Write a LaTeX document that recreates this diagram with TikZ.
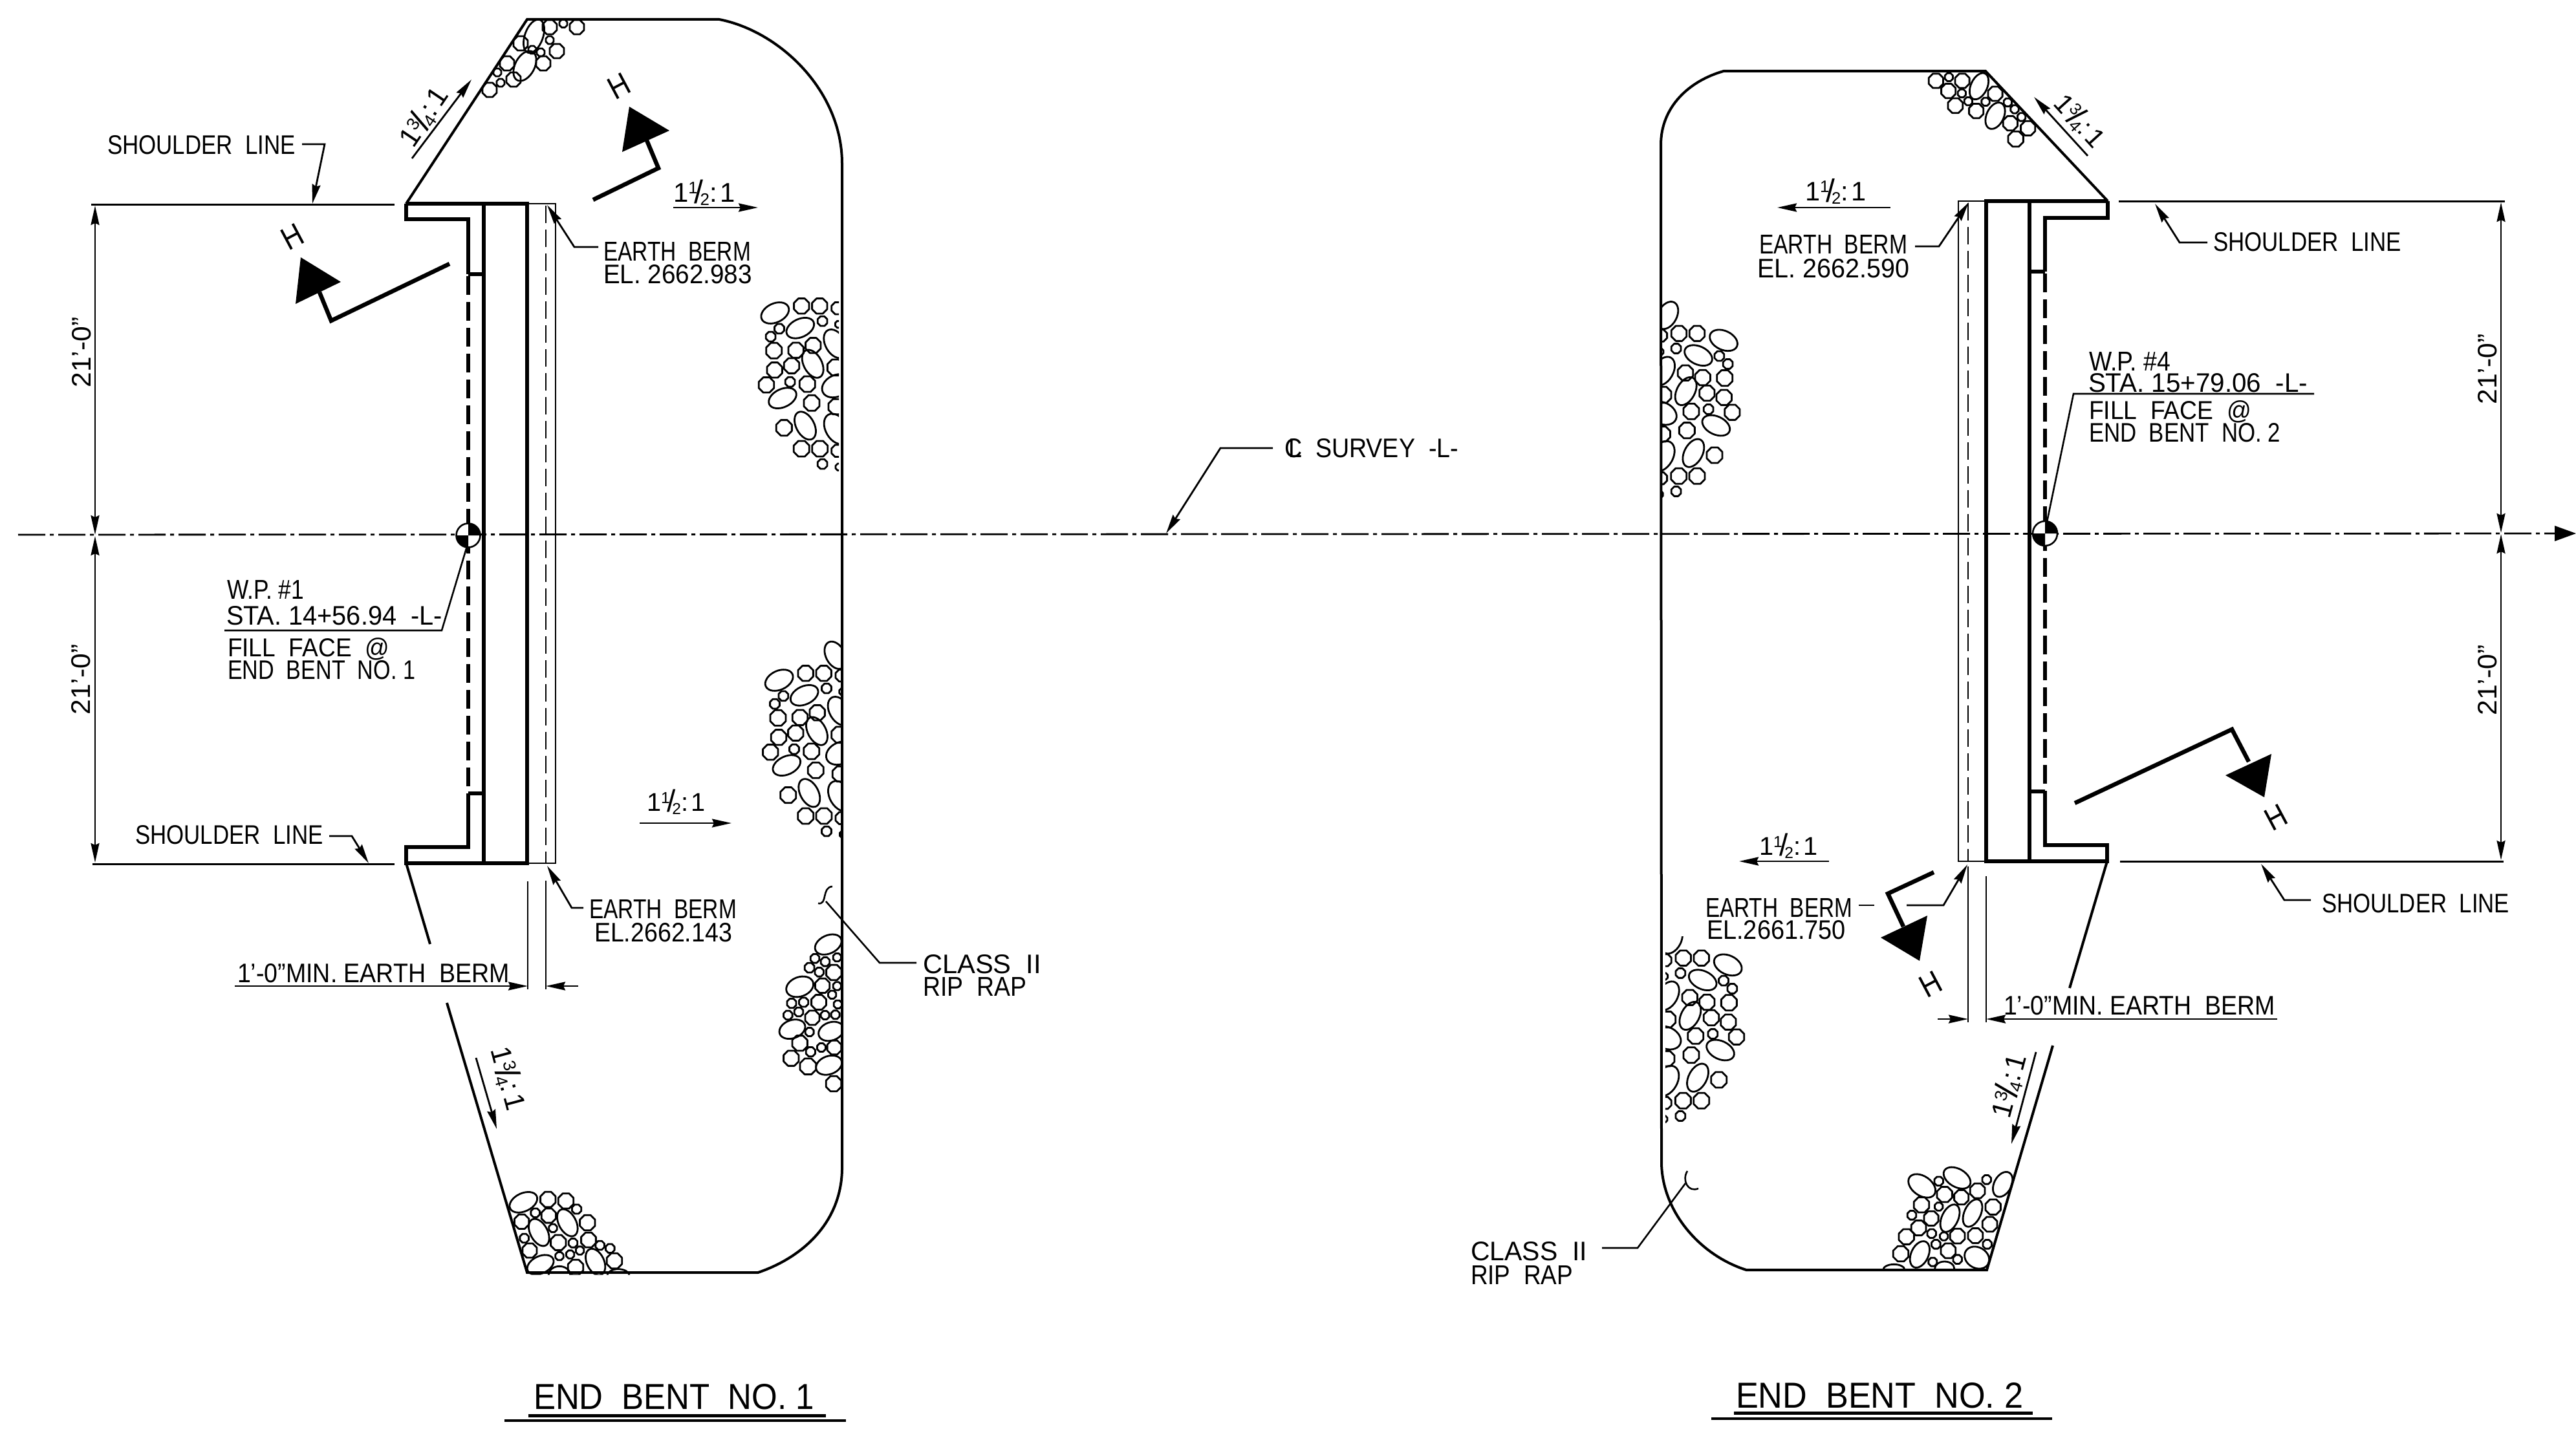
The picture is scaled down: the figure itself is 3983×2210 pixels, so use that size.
\documentclass[tikz,border=0pt]{standalone}
\usepackage{fontspec}
\usepackage{graphicx}
\setmainfont{Liberation Sans}
\usetikzlibrary{arrows.meta}
\tikzset{
  lbl/.style={inner sep=0pt,outer sep=0pt,anchor=base west,font=\fontsize{40}{48}\selectfont},
  rlb/.style={inner sep=0pt,outer sep=0pt,anchor=center,font=\fontsize{40}{48}\selectfont},
  flb/.style={inner sep=0pt,outer sep=0pt,anchor=base west,font=\fontsize{40}{48}\selectfont},
  stone/.style={line width=2.8pt,line join=round},
  bank/.style={line width=4pt,line join=miter},
  wall/.style={line width=6pt,line join=miter},
  thin/.style={line width=2.6pt},
  thindash/.style={line width=2.6pt,dash pattern=on 27pt off 10pt},
  thickdash/.style={line width=6pt,dash pattern=on 29pt off 11pt},
  cline/.style={line width=2.8pt,dash pattern=on 42pt off 7pt on 6pt off 7pt},
  sect/.style={line width=6.5pt,line join=miter},
  ar/.style={-{Stealth[length=30pt,width=13pt,inset=3pt]},line width=2.8pt},
  dim/.style={{Stealth[length=30pt,width=13pt,inset=3pt]}-{Stealth[length=30pt,width=13pt,inset=3pt]},line width=2.6pt},
}
\newcommand\lab[6][29]{\node[lbl] (#2) at ({#3},{#4+#1/2}) {\resizebox{#5pt}{#1pt}{#6}};}
\newcommand\rlab[7][29]{\node[rlb,rotate=#5] (#2) at (#3,#4) {\resizebox{#6pt}{#1pt}{#7}};}
\newcommand\mixf[4]{#1\raisebox{.30em}{\scalebox{.62}{#2}}\kern-.12em\raisebox{-.05em}{\scalebox{1.2}{/}}\kern-.12em\raisebox{-.14em}{\scalebox{.62}{#3}}:\kern.12em #4}
\newcommand\flab[6]{\node[flb] (#1) at (#2,#3) {\resizebox{#4pt}{!}{\mixf#5}};}
\newcommand\rflab[6]{\node[rlb,rotate=#4] (#1) at (#2,#3) {\resizebox{#5pt}{!}{\mixf#6}};}
\newcommand\oc[3]{\draw[stone,shift={(#1,#2)}] (22.5:#3)--(67.5:#3)--(112.5:#3)--(157.5:#3)--(202.5:#3)--(247.5:#3)--(292.5:#3)--(337.5:#3)--cycle;}
\newcommand\el[5]{\draw[stone] (#1,#2) circle[x radius=#3,y radius=#4,rotate=#5];}
\newcommand\ocs[1]{\foreach \a/\b/\c in {#1}{\oc{\a}{\b}{\c}}}
\newcommand\els[1]{\foreach \a/\b/\c/\d/\e in {#1}{\el{\a}{\b}{\c}{\d}{\e}}}
\newcommand\ripA{%
  \els{145/102/68/44/25,262/172/68/42/25,320/338/70/42/-62,180/497/68/42/25,285/625/70/42/-62,425/245/72/46/-60,430/440/70/50/25,430/640/76/50/-60}%
  \ocs{268/70/38,352/70/38,435/80/30,365/140/24,165/175/24,125/212/24,140/277/39,242/275/38,322/253/38,222/347/38,143/367/38,425/355/40,215/422/24,105/436/38,295/432/39,440/155/17,315/520/39,428/537/38,187/635/39,268/732/39,353/732/39,435/742/30,365/803/24,442/817/17}%
}
\newcommand\ripExtra{\el{406}{-14}{68}{44}{-62}}
\begin{document}
\begin{tikzpicture}[x=1pt,y=-1pt]
\useasboundingbox (0,0) rectangle (3983,2210);
\fill[white] (0,0) rectangle (3983,2210);

% ---------- rip rap clusters
% A
\begin{scope}
\clip (815,30)--(910,30)--(910,160)--(730,160)--cycle;
\el{825.5}{56}{27}{14}{70}\el{811.5}{102}{25}{15}{62}
\ocs{892/42/12,871/36.5/6.5,850/42/12,850/62/6.5,861/79/12,836/81/6.5,823/77/6.5,840/98/12,805/67/12,784/98/12,794/123/12,769/112/6.5,774/128/6.5,757/139/12}
\end{scope}
% B
\begin{scope}[shift={(1150,450)},scale=0.3333]
\clip (0,-100) rectangle (441,900);
\ripA
\end{scope}
% C
\begin{scope}[shift={(1156.33,1018)},scale=0.3333]
\clip (0,-120) rectangle (440,900);
\ripA\ripExtra
\end{scope}
% D
\begin{scope}[shift={(1190,1430)},scale=0.3333]
\clip (0,0) rectangle (335,800);
\els{272/92/65/42/25,140/288/65/45/20,285/495/60/42/20,105/485/62/42/20,275/652/62/42/20}
\ocs{210/157/22,258/172/22,313/152/20,185/200/24,230/220/22,298/222/38,245/283/36,313/285/20,290/325/20,228/360/37,316/370/20,102/365/23,158/360/23,135/405/22,85/420/22,198/432/36,257/420/21,305/418/21,185/498/21,140/550/38,240/570/21,300/570/35,190/590/23,100/620/38,178/658/40,297/738/38}
\end{scope}
% E
\begin{scope}[shift={(770,1830)},scale=0.3333]
\clip (20,0)--(135,425)--(630,425)--(630,0)--cycle;
\els{118/88/68/42/25,190/228/68/40/-62,322/183/68/40/-62,197/378/65/40/25,452/365/65/40/-65,285/425/50/40/0,558/430/52/32/0}
\ocs{232/75/38,315/82/38,365/120/23,173/137/22,235/150/36,110/178/36,255/208/20,415/183/38,122/255/22,280/275/38,348/277/22,420/263/37,147/312/36,473/288/22,520/302/22,380/312/20,285/338/20,335/330/20,540/360/38,360/390/38}
\end{scope}
% F
\begin{scope}[shift={(2970,100)},scale=0.3333]
\clip (0,33)--(305,33)--(640,396)--(0,396)--cycle;
\els{270/100/65/38/65,345/237/65/40/65}
\ocs{70/75/36,130/58/20,192/75/36,128/122/36,190/133/20,220/170/20,160/190/37,257/215/36,300/172/20,345/135/36,403/175/20,435/207/20,467/243/20,415/272/36,497/295/36,440/345/38}
\end{scope}
% G
\begin{scope}[shift={(2713.33,492.33)},xscale=-0.3333,yscale=0.3333]
\clip (0,-130) rectangle (436,900);
\ripA\ripExtra
\end{scope}
% H
\begin{scope}[shift={(2720,1458.33)},xscale=-0.3333,yscale=0.3333]
\clip (0,-30) rectangle (435,900);
\ripA\ripExtra
\end{scope}
% I
\begin{scope}[shift={(2900,1790)},scale=0.3333]
\clip (660,20)--(520,518)--(0,518)--(0,0)--(660,0)--cycle;
\els{215/132/70/45/-35,378/95/68/42/-30,590/125/62/40/62,345/282/68/38/65,450/258/68/38/65,205/450/65/40/65,470/465/60/48/-30,85/522/50/26/0,320/515/45/32/0}
\ocs{293/110/22,515/103/22,320/172/38,398/185/36,473/155/37,213/220/38,293/228/20,168/268/22,258/283/36,545/230/38,200/327/37,530/310/37,143/368/38,260/353/22,317/366/20,380/365/37,463/363/37,280/403/22,518/403/22,117/447/38,337/433/37,265/485/21,380/473/22}
\end{scope}

% ---------- centre line
\draw[cline] (28,827) -- (3952,825);
\fill (3983,825) -- (3950,813) -- (3950,837) -- cycle;

% ---------- END BENT 1 outline
\draw[bank] (628,315) -- (815,30) -- (1112,30) .. controls (1205,48) and (1302,140) .. (1302,253) -- (1302,1801) .. controls (1304,1890) and (1240,1945) .. (1172,1968) -- (815,1968) -- (691,1551);
\draw[bank] (665,1460) -- (628,1335);
% walls
\draw[wall] (628,315) -- (815,315) -- (815,1335) -- (628,1335) -- (628,1310) -- (724,1310) -- (724,1227);
\draw[wall] (628,315) -- (628,339) -- (724,339) -- (724,424);
\draw[wall] (724,424) -- (748,424);
\draw[wall] (724,1227) -- (748,1227);
\draw[wall] (748,315) -- (748,1335);
\draw[thickdash] (724,427) -- (724,1227);
% berm
\draw[thin] (815,315) -- (859,315) -- (859,1335) -- (815,1335);
\draw[thindash] (844,318) -- (844,1335);
% shoulder & dims
\draw[bank,line width=3pt] (141,316) -- (610,316);
\draw[bank,line width=3pt] (143,1336) -- (610,1336);
\draw[dim] (147,318) -- (147,827);
\draw[dim] (147,829) -- (147,1334);
\rlab{L21a}{126}{545}{90}{109}{21'-0"}
\rlab{L21b}{125}{1051}{90}{109}{21'-0"}

% WP1
\draw[thin] (722,845) -- (683,975) -- (347,975);
\fill[white] (724,828) circle[radius=18.5];
\fill (724,828) -- (742.5,828) arc[start angle=0,end angle=-90,radius=18.5] -- cycle;
\fill (724,828) -- (705.5,828) arc[start angle=180,end angle=90,radius=18.5] -- cycle;
\draw[thin] (724,828) circle[radius=18.5];
\lab{wp1a}{351}{912}{119}{W.P.~\#1}
\lab{wp1b}{350}{952}{334}{STA.~14+56.94~~-L-}
\lab{wp1c}{352}{1001}{250}{FILL~~FACE~~@}
\lab{wp1d}{352}{1036}{290}{END~~BENT~~NO.~1}

% labels left
\lab{sh1}{166}{224}{291}{SHOULDER~~LINE}
\draw[ar] (467,223) -- (502,223) -- (483,315);
\lab{sh2}{209}{1291}{291}{SHOULDER~~LINE}
\draw[ar] (509,1293) -- (544,1293) -- (570,1335);
\lab{eb1a}{933}{389}{228}{EARTH~~BERM}
\lab{eb1b}{933}{424}{230}{EL.~2662.983}
\draw[ar] (925,382) -- (888,382) -- (846,317);
\lab{eb2a}{911}{1406}{228}{EARTH~~BERM}
\lab{eb2b}{919}{1442}{213}{EL.2662.143}
\draw[ar] (902,1404) -- (884,1404) -- (846,1339);
% 1'-0" left
\draw[thin] (816,1363) -- (816,1530);
\draw[thin] (844,1362) -- (844,1530);
\draw[ar] (363,1525) -- (816,1525);
\draw[ar] (894,1525) -- (844,1525);
\lab{min1}{367}{1505}{421}{1'-0"MIN.~EARTH~~BERM}
% slopes left
\draw[ar] (637,245) -- (729,123);
\rflab{sl1}{655}{181}{56}{100}{{1}{3}{4}{1}}
\flab{sl2}{1041}{312}{96}{{1}{1}{2}{1}}{}
\draw[ar] (1041,321) -- (1172,321);
\flab{sl3}{1000}{1254}{91}{{1}{1}{2}{1}}{}
\draw[ar] (989,1273) -- (1131,1273);
\draw[ar] (736,1636) -- (768,1746);
\rflab{sl4}{786}{1668}{-75}{100}{{1}{3}{4}{1}}
% H sections left
\draw[sect] (494,452) -- (512,496) -- (695,408);
\fill (465,398) -- (527,436) -- (457,470) -- cycle;
\rlab[34]{h1}{452}{366}{28}{31}{H}
\draw[sect] (1000,217) -- (1018,260) -- (917,309);
\fill (973,165) -- (1035,202) -- (962,235) -- cycle;
\rlab[34]{h2}{957}{133}{28}{31}{H}
% rip rap label left
\draw[thin] (1417,1489) -- (1360,1489) -- (1277,1394);
\draw[thin] (1265,1397) .. controls (1280,1400) and (1270,1372) .. (1287,1371);
\lab{cl1a}{1427}{1491}{183}{CLASS~~II}
\lab{cl1b}{1427}{1526}{160}{RIP~~RAP}
% title
\lab[39]{ttl1}{825}{2160}{434}{END~~BENT~~NO.~1}
\draw[line width=5pt] (817,2189) -- (1277,2189);
\draw[line width=3.5pt] (780,2197) -- (1308,2197);

% ---------- survey label
\lab{surv}{1986}{693}{269}{\rlap{\kern.18em L}C~~SURVEY~~-L-}
\draw[ar] (1968,693) -- (1887,693) -- (1803,825);

% ---------- END BENT 2 outline
\draw[bank] (3259,311) -- (3070,110) -- (2665,110) .. controls (2612,125) and (2568,165) .. (2568,224) -- (2569,1797) .. controls (2569,1870) and (2625,1940) .. (2700,1964) -- (3072,1964) -- (3174,1617);
\draw[bank] (3200,1528) -- (3258,1332);
% walls
\draw[wall] (3259,311) -- (3071,311) -- (3071,1332) -- (3258,1332) -- (3258,1307) -- (3162,1307) -- (3162,1224);
\draw[wall] (3259,311) -- (3259,337) -- (3162,337) -- (3162,420);
\draw[wall] (3162,420) -- (3138,420);
\draw[wall] (3162,1224) -- (3138,1224);
\draw[wall] (3138,311) -- (3138,1332);
\draw[thickdash] (3162,423) -- (3162,1224);
% berm
\draw[thin] (3071,311) -- (3028,311) -- (3028,1332) -- (3071,1332);
\draw[thindash] (3043,314) -- (3043,1332);
% shoulder & dims
\draw[bank,line width=3pt] (3276,311) -- (3873,311);
\draw[bank,line width=3pt] (3278,1332) -- (3871,1332);
\draw[dim] (3867,313) -- (3867,824);
\draw[dim] (3867,826) -- (3867,1330);
\rlab{R21a}{3846}{571}{90}{109}{21'-0"}
\rlab{R21b}{3846}{1052}{90}{109}{21'-0"}
% WP4
\draw[thin] (3165,807) -- (3206,609) -- (3578,609);
\fill[white] (3162,825) circle[radius=19];
\fill (3162,825) -- (3181,825) arc[start angle=0,end angle=-90,radius=19] -- cycle;
\fill (3162,825) -- (3143,825) arc[start angle=180,end angle=90,radius=19] -- cycle;
\draw[thin] (3162,825) circle[radius=19];
\lab{wp2a}{3230}{559}{126}{W.P.~\#4}
\lab{wp2b}{3229}{592}{339}{STA.~15+79.06~~-L-}
\lab{wp2c}{3230}{634}{251}{FILL~~FACE~~@}
\lab{wp2d}{3230}{669}{296}{END~~BENT~~NO.~2}
% labels right
\lab{eb3a}{2720}{378}{229}{EARTH~~BERM}
\lab{eb3b}{2717}{415}{235}{EL.~2662.590}
\draw[ar] (2961,381) -- (2998,381) -- (3044,313);
\lab{sh3}{3422}{374}{291}{SHOULDER~~LINE}
\draw[ar] (3413,375) -- (3370,375) -- (3332,315);
\lab{eb4a}{2637}{1404}{227}{EARTH~~BERM}
\lab{eb4b}{2639}{1438}{215}{EL.2661.750}
\draw[thin] (2874,1400) -- (2898,1400);
\draw[ar] (2948,1400) -- (3005,1400) -- (3042,1337);
\lab{sh4}{3590}{1397}{290}{SHOULDER~~LINE}
\draw[ar] (3573,1392) -- (3532,1392) -- (3496,1336);
% 1'-0" right
\draw[thin] (3043,1340) -- (3043,1581);
\draw[thin] (3071,1355) -- (3071,1581);
\draw[ar] (2996,1576) -- (3043,1576);
\draw[ar] (3521,1576) -- (3071,1576);
\lab{min2}{3098}{1555}{420}{1'-0"MIN.~EARTH~~BERM}
% slopes right
\draw[ar] (3228,241) -- (3145,150);
\rflab{sl5}{3216}{187}{-48}{95}{{1}{3}{4}{1}}
\flab{sl6}{2791}{310}{95}{{1}{1}{2}{1}}{}
\draw[ar] (2923,321) -- (2748,321);
\flab{sl7}{2720}{1322}{91}{{1}{1}{2}{1}}{}
\draw[ar] (2828,1332) -- (2689,1332);
\draw[ar] (3148,1627) -- (3110,1769);
\rflab{sl8}{3106}{1679}{75}{100}{{1}{3}{4}{1}}
% H sections right
\draw[sect] (3208,1242) -- (3451,1128) -- (3477,1178);
\fill (3512,1166) -- (3441,1199) -- (3501,1233) -- cycle;
\rlab[34]{h3}{3519}{1264}{28}{31}{H}
\draw[sect] (2990,1349) -- (2919,1382) -- (2943,1433);
\fill (2980,1416) -- (2908,1450) -- (2968,1486) -- cycle;
\rlab[34]{h4}{2985}{1522}{28}{31}{H}
% rip rap label right
\draw[thin] (2477,1930) -- (2532,1930) -- (2606,1830);
\draw[thin] (2609,1811) .. controls (2600,1825) and (2610,1845) .. (2626,1838);
\lab{cl2a}{2274}{1935}{180}{CLASS~~II}
\lab{cl2b}{2274}{1972}{158}{RIP~~RAP}
% title
\lab[39]{ttl2}{2684}{2158}{444}{END~~BENT~~NO.~2}
\draw[line width=5pt] (2681,2185) -- (3143,2185);
\draw[line width=3.5pt] (2646,2194) -- (3173,2194);
\end{tikzpicture}
\end{document}
